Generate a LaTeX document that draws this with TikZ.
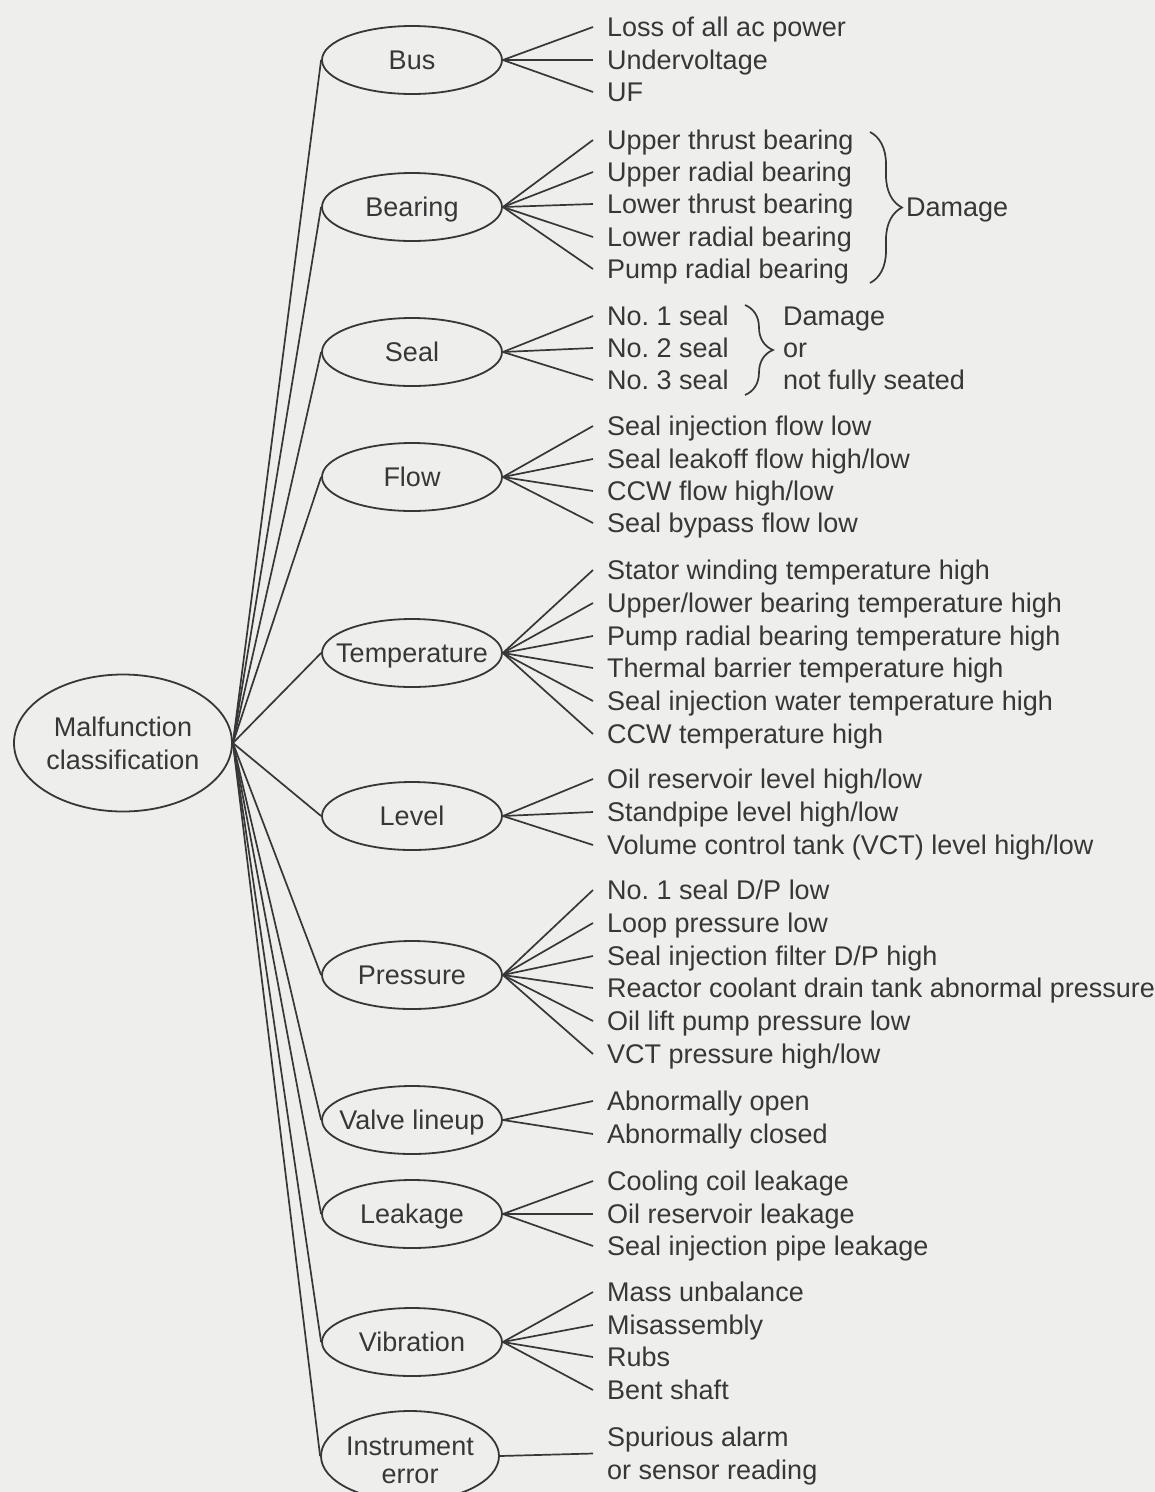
\documentclass[tikz,border=0pt]{standalone}
\usepackage{fontspec}
\setmainfont{Liberation Sans}
\usetikzlibrary{shapes.geometric,decorations.pathreplacing,calc}
\definecolor{bg}{RGB}{238,238,236}
\definecolor{ink}{RGB}{55,55,55}
\frenchspacing
\begin{document}
\begin{tikzpicture}[x=1pt,y=-1pt,
  every node/.style={font=\fontsize{27}{33}\selectfont, text=ink},
  conn/.style={draw=ink, line width=1.7pt},
  cat/.style={ellipse, draw=ink, line width=1.8pt, minimum width=180pt, minimum height=68pt, inner sep=0pt},
  lab/.style={inner sep=0pt, text height=19.5pt, text depth=0pt},
  item/.style={anchor=west, inner xsep=14pt, inner ysep=0pt, text height=19.5pt, text depth=0pt},
  note/.style={anchor=west, inner sep=0pt, text height=19.5pt, text depth=0pt},
  brc/.style={draw=ink, line width=1.7pt, decorate, decoration={brace, amplitude=#1}},
]
\fill[bg] (0,0) rectangle (1155,1492);
\useasboundingbox (0,0) rectangle (1155,1492);

% root
\node[ellipse, draw=ink, line width=1.8pt, minimum width=218pt, minimum height=137pt, inner sep=0pt,
  label={[align=center, inner sep=0pt]center:Malfunction\\classification}] (root) at (123,743) {};

% categories
\node[cat, label={[lab]center:Bus}] (bus) at (412,60) {};
\node[cat, label={[lab]center:Bearing}] (bearing) at (412,207) {};
\node[cat, label={[lab]center:Seal}] (seal) at (412,352) {};
\node[cat, label={[lab]center:Flow}] (flow) at (412,477) {};
\node[cat, label={[lab]center:Temperature}] (temp) at (412,653) {};
\node[cat, label={[lab]center:Level}] (level) at (412,816) {};
\node[cat, label={[lab]center:Pressure}] (press) at (412,975) {};
\node[cat, label={[lab]center:Valve lineup}] (valve) at (412,1120) {};
\node[cat, label={[lab]center:Leakage}] (leak) at (412,1214) {};
\node[cat, label={[lab]center:Vibration}] (vib) at (412,1342) {};
\node[cat, minimum width=178pt, minimum height=90pt,
  label={[align=center, inner sep=0pt, font=\fontsize{27}{28}\selectfont, yshift=-4pt]center:Instrument\\error}] (inst) at (410,1456) {};

\foreach \c in {bus,bearing,seal,flow,temp,level,press,valve,leak,vib,inst}
  \draw[conn] (root.east) -- (\c.west);

% Bus
\node[item] (bus1) at (593,27) {Loss of all ac power};
\node[item] (bus2) at (593,60) {Undervoltage};
\node[item] (bus3) at (593,92) {UF};
% Bearing
\node[item] (bearing1) at (593,140) {Upper thrust bearing};
\node[item] (bearing2) at (593,172) {Upper radial bearing};
\node[item] (bearing3) at (593,204) {Lower thrust bearing};
\node[item] (bearing4) at (593,237) {Lower radial bearing};
\node[item] (bearing5) at (593,269) {Pump radial bearing};
% Seal
\node[item] (seal1) at (593,316) {No. 1 seal};
\node[item] (seal2) at (593,348) {No. 2 seal};
\node[item] (seal3) at (593,380) {No. 3 seal};
% Flow
\node[item] (flow1) at (593,426) {Seal injection flow low};
\node[item] (flow2) at (593,459) {Seal leakoff flow high/low};
\node[item] (flow3) at (593,491) {CCW flow high/low};
\node[item] (flow4) at (593,523) {Seal bypass flow low};
% Temperature
\node[item] (temp1) at (593,570) {Stator winding temperature high};
\node[item] (temp2) at (593,603) {Upper/lower bearing temperature high};
\node[item] (temp3) at (593,636) {Pump radial bearing temperature high};
\node[item] (temp4) at (593,668) {Thermal barrier temperature high};
\node[item] (temp5) at (593,701) {Seal injection water temperature high};
\node[item] (temp6) at (593,734) {CCW temperature high};
% Level
\node[item] (level1) at (593,779) {Oil reservoir level high/low};
\node[item] (level2) at (593,812) {Standpipe level high/low};
\node[item] (level3) at (593,845) {Volume control tank (VCT) level high/low};
% Pressure
\node[item] (press1) at (593,890) {No. 1 seal D/P low};
\node[item] (press2) at (593,923) {Loop pressure low};
\node[item] (press3) at (593,956) {Seal injection filter D/P high};
\node[item] (press4) at (593,988) {Reactor coolant drain tank abnormal pressure};
\node[item] (press5) at (593,1021) {Oil lift pump pressure low};
\node[item] (press6) at (593,1054) {VCT pressure high/low};
% Valve lineup
\node[item] (valve1) at (593,1101) {Abnormally open};
\node[item] (valve2) at (593,1134) {Abnormally closed};
% Leakage
\node[item] (leak1) at (593,1181) {Cooling coil leakage};
\node[item] (leak2) at (593,1214) {Oil reservoir leakage};
\node[item] (leak3) at (593,1246) {Seal injection pipe leakage};
% Vibration
\node[item] (vib1) at (593,1292) {Mass unbalance};
\node[item] (vib2) at (593,1325) {Misassembly};
\node[item] (vib3) at (593,1357) {Rubs};
\node[item] (vib4) at (593,1390) {Bent shaft};
% Instrument error
\node[item] (inst1) at (593,1437) {Spurious alarm};
\node[item] (inst2) at (593,1470) {or sensor reading};
\coordinate (instj) at ($(inst1.west)!0.5!(inst2.west)$);

% connectors to items
\foreach \c/\n in {bus/3,bearing/5,seal/3,flow/4,temp/6,level/3,press/6,valve/2,leak/3,vib/4}
  \foreach \i in {1,...,\n}
    \draw[conn] (\c.east) -- (\c\i.west);
\draw[conn] (inst.east) -- (instj);

% braces
\coordinate (bA) at (870,132);
\coordinate (bB) at (870,283);
\draw[brc=32pt] (bA) -- (bB);
\node[note] (dmg) at (906,207) {Damage};

\coordinate (sA) at (745,305);
\coordinate (sB) at (745,395);
\draw[brc=28pt] (sA) -- (sB);
\node[note] (sdmg1) at (783,316) {Damage};
\node[note] (sdmg2) at (783,348) {or};
\node[note] (sdmg3) at (783,380) {not fully seated};
\end{tikzpicture}
\end{document}
